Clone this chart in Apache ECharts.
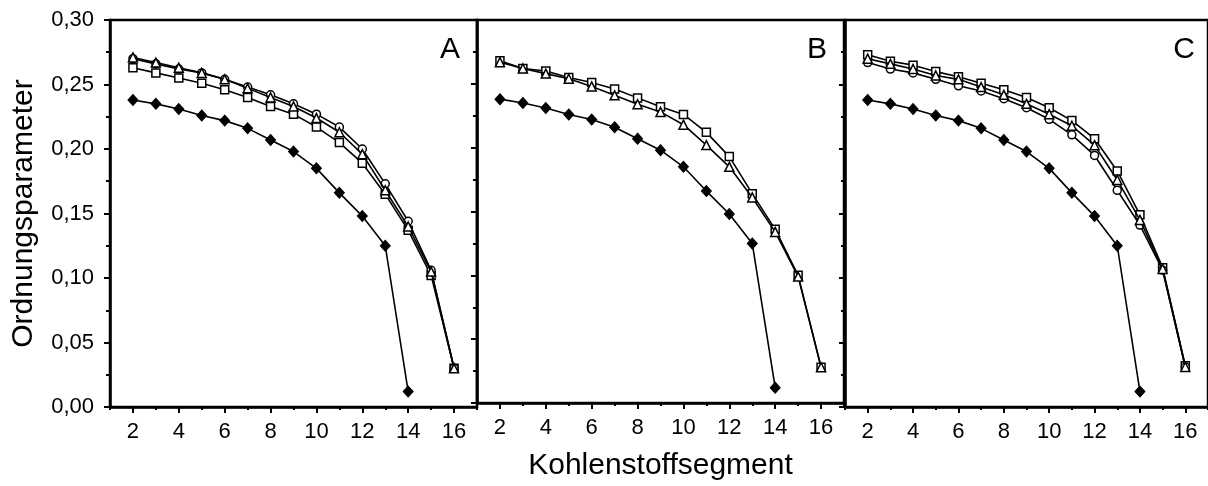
<!DOCTYPE html>
<html>
<head>
<meta charset="utf-8">
<script src="https://cdn.jsdelivr.net/npm/echarts@6/dist/echarts.min.js"></script>
<style>
  html, body { margin: 0; padding: 0; background: #fff; }
  #chart { width: 1208px; height: 486px; }
</style>
</head>
<body>
<div id="chart"></div>
<script>
// Kohlenstoffsegmente (x positions)
const segments = [2, 3, 4, 5, 6, 7, 8, 9, 10, 11, 12, 13, 14, 15, 16];
const segmentsShort = [2, 3, 4, 5, 6, 7, 8, 9, 10, 11, 12, 13, 14];
const majorTicks = [2, 4, 6, 8, 10, 12, 14, 16];
const minorTicks = [1, 3, 5, 7, 9, 11, 13, 15, 17];
const panelLabels = ['A', 'B', 'C'];

// reference series (filled diamonds), identical in all panels
const refDiamond = [0.238, 0.235, 0.231, 0.226, 0.222, 0.216, 0.207, 0.198, 0.185, 0.166, 0.148, 0.125, 0.012];

// panel A
const aSquare   = [0.263, 0.259, 0.255, 0.251, 0.246, 0.240, 0.233, 0.227, 0.217, 0.205, 0.189, 0.165, 0.137, 0.102, 0.030];
const aCircle   = [0.270, 0.266, 0.262, 0.259, 0.254, 0.248, 0.242, 0.235, 0.227, 0.217, 0.200, 0.173, 0.144, 0.106, 0.030];
const aTriangle = [0.271, 0.267, 0.263, 0.259, 0.254, 0.247, 0.240, 0.233, 0.224, 0.213, 0.196, 0.168, 0.140, 0.105, 0.030];

// panel B
const bSquare   = [0.268, 0.262, 0.260, 0.255, 0.251, 0.246, 0.239, 0.232, 0.226, 0.212, 0.193, 0.164, 0.136, 0.100, 0.028];
const bTriangle = [0.267, 0.262, 0.258, 0.254, 0.248, 0.241, 0.234, 0.228, 0.218, 0.202, 0.185, 0.161, 0.134, 0.099, 0.028];

// panel C
const cSquare   = [0.273, 0.268, 0.265, 0.260, 0.256, 0.251, 0.246, 0.240, 0.232, 0.222, 0.208, 0.183, 0.149, 0.108, 0.032];
const cTriangle = [0.270, 0.266, 0.262, 0.257, 0.254, 0.248, 0.242, 0.235, 0.227, 0.218, 0.203, 0.176, 0.145, 0.107, 0.031];
const cCircle   = [0.267, 0.262, 0.259, 0.254, 0.249, 0.245, 0.239, 0.232, 0.223, 0.211, 0.195, 0.168, 0.141, 0.106, 0.031];

const FONT = '"Liberation Sans", Arial, Helvetica, sans-serif';
const panelLeft = [110, 477, 845];
const panelWidth = 367;
const gridTop = 20;
const gridHeight = 387;

function pairs(xs, ys) { return ys.map((y, i) => [xs[i], y]); }

const panels = [
  [['rect', aSquare], ['circle', aCircle], ['triangle', aTriangle]],
  [['rect', bSquare], ['triangle', bTriangle]],
  [['rect', cSquare], ['circle', cCircle], ['triangle', cTriangle]]
];

const grid = [], xAxis = [], yAxis = [], series = [], graphic = [];

panelLeft.forEach((left, i) => {
  grid.push({ left: left, top: gridTop, width: panelWidth, height: gridHeight,
              show: true, borderColor: '#000', borderWidth: 2.5, backgroundColor: 'transparent' });

  // main x axis: labels and major ticks at even segments
  xAxis.push({
    type: 'value', gridIndex: i, min: 1, max: 17, position: 'bottom',
    splitLine: { show: false },
    axisLine: { show: true, onZero: false, lineStyle: { color: '#000', width: 2.5 } },
    axisTick: { show: true, inside: false, length: 6, lineStyle: { color: '#000', width: 2 }, customValues: majorTicks },
    axisLabel: { show: true, customValues: majorTicks, margin: 14, color: '#000',
                 fontFamily: FONT, fontSize: 22 },
    name: i === 1 ? 'Kohlenstoffsegment' : '',
    nameLocation: 'middle', nameGap: 48,
    nameTextStyle: { fontFamily: FONT, fontSize: 30, color: '#000' }
  });
  // secondary x axis: short ticks at odd segments
  xAxis.push({
    type: 'value', gridIndex: i, min: 1, max: 17, position: 'bottom',
    splitLine: { show: false },
    axisLine: { show: false, onZero: false },
    axisTick: { show: true, inside: false, length: 3, lineStyle: { color: '#000', width: 2 }, customValues: minorTicks },
    axisLabel: { show: false }
  });

  yAxis.push({
    type: 'value', gridIndex: i, min: 0, max: 0.30, interval: 0.05,
    splitLine: { show: false },
    axisLine: { show: true, onZero: false, lineStyle: { color: '#000', width: 2.5 } },
    axisTick: { show: true, inside: false, length: 6, lineStyle: { color: '#000', width: 2 } },
    minorTick: { show: true, splitNumber: 2, length: 4, lineStyle: { color: '#000', width: 2 } },
    axisLabel: { show: i === 0, margin: 16, color: '#000', fontFamily: FONT, fontSize: 22,
                 formatter: v => v.toFixed(2).replace('.', ',') },
    name: i === 0 ? 'Ordnungsparameter' : '',
    nameLocation: 'middle', nameGap: 71,
    nameTextStyle: { fontFamily: FONT, fontSize: 30, color: '#000' }
  });

  series.push({
    type: 'line', xAxisIndex: 2 * i, yAxisIndex: i,
    data: pairs(segmentsShort, refDiamond),
    symbol: 'diamond', symbolSize: [10, 11],
    lineStyle: { color: '#000', width: 1.6 },
    itemStyle: { color: '#000', borderColor: '#000', borderWidth: 1 },
    z: 2
  });

  panels[i].forEach(([sym, vals], k) => {
    series.push({
      type: 'line', xAxisIndex: 2 * i, yAxisIndex: i,
      data: pairs(segments, vals),
      symbol: sym, symbolSize: sym === 'triangle' ? 9 : 8,
      showAllSymbol: true,
      lineStyle: { color: '#000', width: 1.6 },
      itemStyle: { color: '#fff', borderColor: '#000', borderWidth: 1.5 },
      z: 3 + k
    });
  });

  graphic.push({
    type: 'text', right: 1208 - (left + panelWidth) + 17, top: 35,
    style: { text: panelLabels[i], fontFamily: FONT, fontSize: 30, fill: '#000' }
  });
});

const chart = echarts.init(document.getElementById('chart'), null, { renderer: 'canvas' });
chart.setOption({
  animation: false,
  backgroundColor: '#fff',
  grid, xAxis, yAxis, series, graphic
});
</script>
</body>
</html>
